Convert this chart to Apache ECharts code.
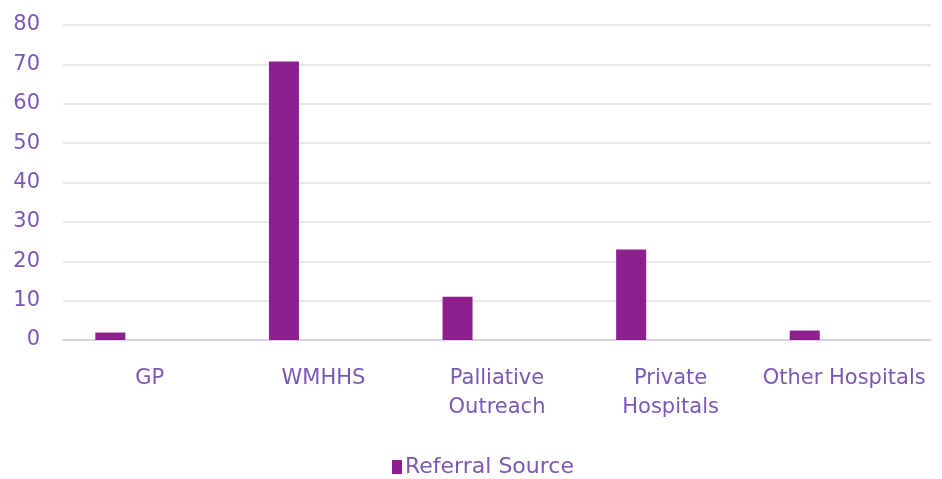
<!DOCTYPE html>
<html>
<head>
<meta charset="utf-8">
<script src="https://cdn.jsdelivr.net/npm/echarts@6/dist/echarts.min.js"></script>
<style>
  html, body { margin: 0; padding: 0; background: #ffffff; }
  #chart { width: 942px; height: 479px; }
</style>
</head>
<body>
<div id="chart"></div>
<script>
// Referral sources and their counts
const categories = ['GP', 'WMHHS', 'Palliative\nOutreach', 'Private\nHospitals', 'Other Hospitals'];
const referralValues = [1.9, 70.7, 11, 23, 2.4];
const yTicks = [0, 10, 20, 30, 40, 50, 60, 70, 80];

const textColor = '#7b57b6';
const barColor = '#8e1f8f';
const font = '"DejaVu Sans", "Noto Sans", sans-serif';

const chart = echarts.init(document.getElementById('chart'));
chart.setOption({
  animation: false,
  grid: { left: 63, right: 11, top: 25, bottom: 139 },
  legend: {
    data: ['Referral Source'],
    top: 451,
    left: 387,
    itemWidth: 10,
    itemHeight: 14,
    icon: 'rect',
    textStyle: { color: textColor, fontSize: 22, fontFamily: font, padding: [0, 0, 0, -2] }
  },
  xAxis: {
    type: 'category',
    data: categories,
    axisTick: { show: false },
    axisLine: { lineStyle: { color: '#d8cce6', width: 1.5 } },
    axisLabel: {
      color: textColor, fontSize: 21, fontFamily: font,
      margin: 24, lineHeight: 29, interval: 0
    }
  },
  yAxis: {
    type: 'value',
    min: yTicks[0],
    max: yTicks[yTicks.length - 1],
    interval: 10,
    axisLine: { show: false },
    axisTick: { show: false },
    splitLine: { lineStyle: { color: '#e3e0e8', width: 1.5 } },
    axisLabel: {
      color: textColor, fontSize: 21, fontFamily: font, margin: 23,
      padding: [4, 0, 0, 0],
      formatter: v => (yTicks.includes(v) ? String(v) : '')
    }
  },
  series: [
    {
      name: 'Referral Source',
      type: 'bar',
      data: referralValues,
      barWidth: 30,
      barGap: '163%',
      itemStyle: { color: barColor }
    },
    {
      // empty companion series keeps each bar left of its category centre
      name: 'spacer',
      type: 'bar',
      data: categories.map(() => null),
      barWidth: 30,
      itemStyle: { color: 'transparent' }
    }
  ]
});
</script>
</body>
</html>
